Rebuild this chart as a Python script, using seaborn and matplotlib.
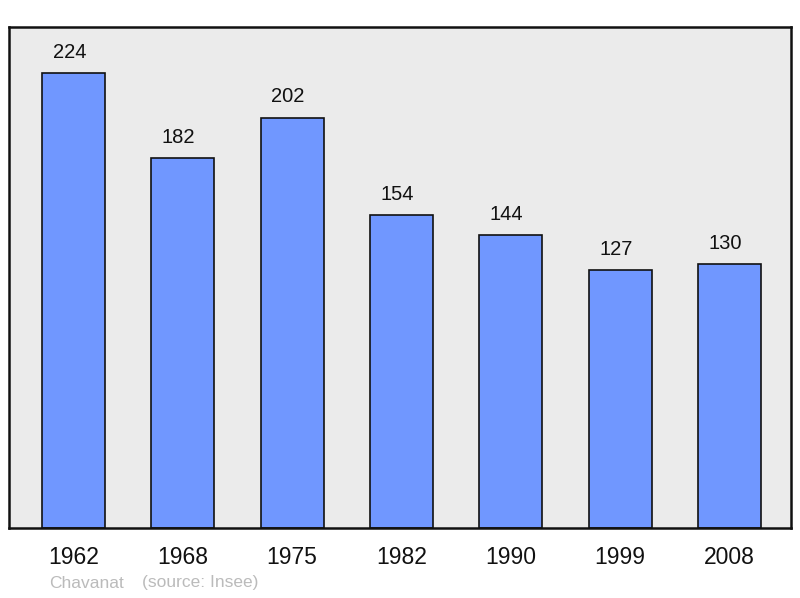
import matplotlib
matplotlib.use("Agg")
import matplotlib.pyplot as plt
import seaborn as sb
import pandas as pd

years = ["1962", "1968", "1975", "1982", "1990", "1999", "2008"]
population = [224, 182, 202, 154, 144, 127, 130]

sb.set_style("white")
plt.rcParams['font.family'] = ['Liberation Sans', 'DejaVu Sans']

df = pd.DataFrame({"annee": years, "pop": population})

fig = plt.figure(figsize=(8, 5.98), dpi=100)
ax = fig.add_axes([8.5 / 800, 1 - 528 / 598, (791 - 8.5) / 800, (528 - 27) / 598])
ax.set_facecolor('#ebebeb')

sb.barplot(data=df, x="annee", y="pop", color='#7097ff', width=0.576,
           edgecolor='#111111', linewidth=1.2, saturation=1, ax=ax)

# labels sit a little left of bar centre in the original
for i, v in enumerate(population):
    ax.annotate(str(v), (i, v), xytext=(-3, 8), textcoords='offset points',
                ha='center', va='bottom', fontsize=14.5, color='#111111')

ax.set_xlim(-0.594, 6.5625)
ax.set_ylim(0, 246.6)
ax.set_yticks([])
ax.set_xlabel("")
ax.set_ylabel("")
ax.tick_params(axis='x', length=0, pad=13, labelsize=16.5, colors='#111111')
for s in ax.spines.values():
    s.set_visible(True)
    s.set_color('#111111')
    s.set_linewidth(1.8)

fig.text(49 / 800, 1 - 583 / 598, "Chavanat", fontsize=12.5, color='#bbbbbb', va='center')
fig.text(142 / 800, 1 - 583 / 598, "(source: Insee)", fontsize=12.5, color='#bbbbbb', va='center')

fig.savefig("out.png", dpi=100)
